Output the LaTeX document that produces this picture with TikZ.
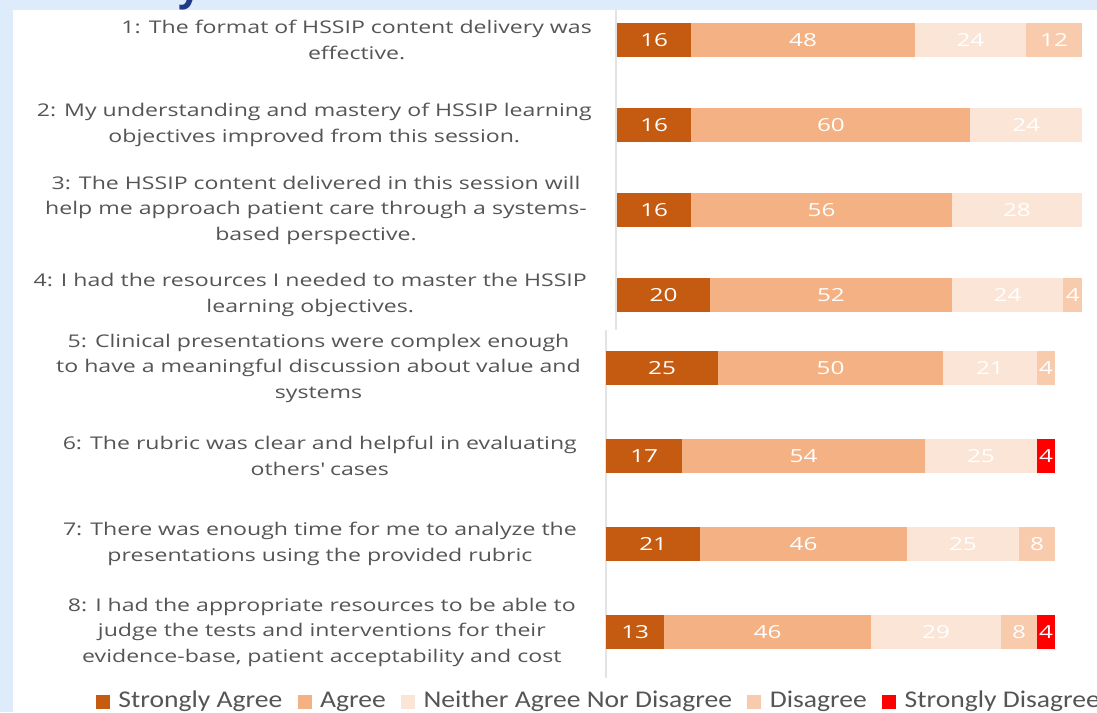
\documentclass[tikz,border=0pt]{standalone}
\usepackage{fontspec}
\setmainfont{Open Sans}
\newfontfamily\qfont[FakeStretch=1.32]{Open Sans}
\newfontfamily\numfont[FakeStretch=1.35]{Open Sans}
\newfontfamily\keyfont[FakeStretch=1.15]{Carlito}
\usetikzlibrary{positioning}

\definecolor{sagree}{HTML}{C55A11}
\definecolor{agree}{HTML}{F4B183}
\definecolor{neutral}{HTML}{FBE5D6}
\definecolor{disagree}{HTML}{F8CBAD}
\definecolor{sdisagree}{HTML}{FF0000}
\definecolor{slideblue}{HTML}{DEEBFA}
\definecolor{titleblue}{HTML}{1F3A8A}
\definecolor{labelgray}{HTML}{555555}
\definecolor{axisgray}{HTML}{E3E3E3}

\tikzset{
    qlabel/.style={anchor=east, align=center, text=labelgray, inner sep=0pt,
        font=\qfont\fontsize{17.5}{25.5}\selectfont},
    barnum/.style={text=white, inner sep=0pt, font=\numfont\fontsize{18}{22}\selectfont},
    keybox/.style={minimum size=14pt, inner sep=0pt},
    keytext/.style={text=labelgray, inner sep=0pt, text height=16pt, text depth=5pt,
        font=\keyfont\fontsize{24}{28}\selectfont}
}

\begin{document}
\begin{tikzpicture}[x=1pt,y=-1pt]
    \useasboundingbox (0,0) rectangle (1097,712);

    % slide background and the cut title
    \fill[slideblue] (0,0) rectangle (1097,712);
    \node[anchor=base, text=titleblue, font=\fontsize{40}{40}\selectfont\bfseries] (title) at (190,0) {y};
    \fill[white] (13,10) rectangle (1097,712);

    \draw[axisgray, line width=1.2pt] (616,10) -- (616,330);
    \draw[axisgray, line width=1.2pt] (606,330) -- (606,678);

    % questions 1-4
    \node[qlabel] (q1) at (592,40) {1: The format of HSSIP content delivery was\\effective.};
    \node[qlabel] (q2) at (592,125) {2: My understanding and mastery of HSSIP learning\\objectives improved from this session.};
    \node[qlabel] (q3) at (587,210) {3: The HSSIP content delivered in this session will\\help me approach patient care through a systems-\\based perspective.};
    \node[qlabel] (q4) at (587,295) {4: I had the resources I needed to master the HSSIP\\learning objectives.};

    % questions 5-8
    \node[qlabel] (q5) at (581,368) {5: Clinical presentations were complex enough\\to have a meaningful discussion about value and\\systems};
    \node[qlabel] (q6) at (577,456) {6: The rubric was clear and helpful in evaluating\\others\textquotesingle{} cases};
    \node[qlabel] (q7) at (577,544) {7: There was enough time for me to analyze the\\presentations using the provided rubric};
    \node[qlabel] (q8) at (576,632) {8: I had the appropriate resources to be able to\\judge the tests and interventions for their\\evidence-base, patient acceptability and cost};

    % bars of the upper block
    \foreach \r/\y/\vals in {1/40/{16/sagree,48/agree,24/neutral,12/disagree},
                             2/125/{16/sagree,60/agree,24/neutral},
                             3/210/{16/sagree,56/agree,28/neutral},
                             4/295/{20/sagree,52/agree,24/neutral,4/disagree}} {
        \foreach \v/\c [count=\i, remember=\e as \s (initially 0), evaluate=\v as \e using \s+\v] in \vals {
            \fill[\c] (617+4.65*\s,\y-17) rectangle (617+4.65*\e,\y+17);
            \node[barnum] (b\r-\i) at (617+4.65*\s+2.325*\v,\y) {\v};
        }
    }

    % bars of the lower block
    \foreach \r/\y/\vals in {5/368/{25/sagree,50/agree,21/neutral,4/disagree},
                             6/456/{17/sagree,54/agree,25/neutral,4/sdisagree},
                             7/544/{21/sagree,46/agree,25/neutral,8/disagree},
                             8/632/{13/sagree,46/agree,29/neutral,8/disagree,4/sdisagree}} {
        \foreach \v/\c [count=\i, remember=\e as \s (initially 0), evaluate=\v as \e using \s+\v] in \vals {
            \fill[\c] (606+4.49*\s,\y-17) rectangle (606+4.49*\e,\y+17);
            \node[barnum] (b\r-\i) at (606+4.49*\s+2.245*\v,\y) {\v};
        }
    }

    % legend
    \node[keybox, fill=sagree] (k1) at (103,701.5) {};
    \node[keytext, right=8pt of k1] (t1) {Strongly Agree};
    \node[keybox, fill=agree, right=15pt of t1] (k2) {};
    \node[keytext, right=8pt of k2] (t2) {Agree};
    \node[keybox, fill=neutral, right=15pt of t2] (k3) {};
    \node[keytext, right=8pt of k3] (t3) {Neither Agree Nor Disagree};
    \node[keybox, fill=disagree, right=15pt of t3] (k4) {};
    \node[keytext, right=8pt of k4] (t4) {Disagree};
    \node[keybox, fill=sdisagree, right=15pt of t4] (k5) {};
    \node[keytext, right=8pt of k5] (t5) {Strongly Disagree};
\end{tikzpicture}
\end{document}
